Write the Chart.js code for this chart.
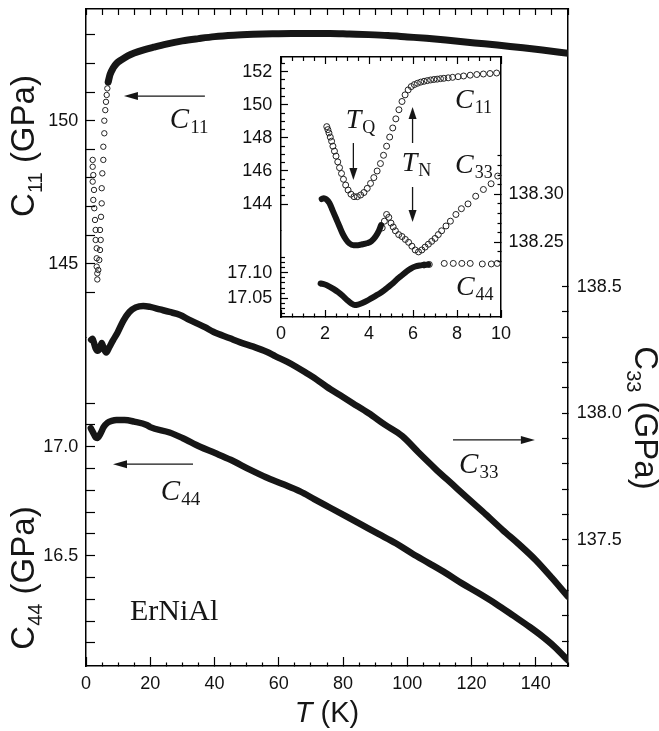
<!DOCTYPE html>
<html>
<head>
<meta charset="utf-8">
<script src="https://cdn.jsdelivr.net/npm/chart.js@4.4.0/dist/chart.umd.min.js"></script>
<style>
  html, body { margin: 0; padding: 0; background: #fff; }
  #wrap { position: relative; width: 659px; height: 731px; }
  #mainChart { position: absolute; left: 0; top: 0; }
  #insetChart { position: absolute; left: 200px; top: 45px; }
</style>
</head>
<body>
<div id="wrap">
  <canvas id="mainChart" width="659" height="731"></canvas>
  <canvas id="insetChart" width="370" height="305"></canvas>
</div>
<script>
// ---- main panel, 0-150 K ----
const mainTempLabels = [0, 20, 40, 60, 80, 100, 120, 140];
const mainC11Labels = [145, 150];
const mainC44Labels = [16.5, 17.0];
const mainC33Labels = [137.5, 138.0, 138.5];

// C11 below ~7 K is plotted as open circles, the rest as a dense trace
const mainC11DotT = [2.08, 2.08, 2.27, 2.08, 2.49, 2.27, 2.58, 2.80, 3.00, 3.00, 3.33, 3.33, 3.33, 3.52, 3.52,
  3.83, 4.14, 4.36, 4.57, 4.36, 4.67, 4.89, 4.89, 5.08, 5.39, 5.39, 5.70, 5.70, 6.00, 6.22, 6.44, 6.64];
const mainC11Dot = [148.63, 148.39, 148.10, 147.87, 147.58, 147.23, 146.94, 146.53, 146.18, 145.83, 145.54, 145.19, 144.90, 144.66, 144.45,
  144.78, 145.13, 145.48, 145.83, 146.18, 146.64, 147.11, 147.64, 148.16, 148.63, 149.09, 149.56, 150.00, 150.37, 150.66, 150.90, 151.13];
const mainC11LineT = [6.9, 7.5, 8.5, 9.5, 11, 13, 15, 18, 21, 25, 30, 35, 40, 46, 52, 58, 64, 70, 76, 82,
  88, 94, 100, 106, 112, 118, 124, 130, 136, 142, 150];
const mainC11Line = [151.35, 151.62, 151.85, 152.0, 152.13, 152.27, 152.37, 152.48, 152.57, 152.68, 152.79, 152.87, 152.94, 152.99, 153.02, 153.04, 153.05, 153.05, 153.05, 153.03,
  153.01, 152.98, 152.93, 152.88, 152.82, 152.75, 152.69, 152.62, 152.55, 152.47, 152.36];

const mainC33T = [1.6, 2.0, 2.5, 3.0, 3.6, 4.3, 4.9, 5.5, 6.3, 7.2, 8.4, 9.8, 11.6, 13.5, 15.5, 17.8, 20, 23, 26, 29.3,
  32, 34.5, 37, 39.6, 44.8, 48, 52.1, 56.2, 59, 62.5, 65.5, 68.7, 71.8, 74.9, 79, 83, 88, 93, 98.4, 103.5,
  108.8, 114, 119.2, 124.5, 129.6, 135, 140, 145, 150];
const mainC33 = [138.29, 138.294, 138.277, 138.256, 138.247, 138.256, 138.277, 138.257, 138.240, 138.26, 138.288, 138.318, 138.365, 138.40, 138.418, 138.424, 138.42, 138.41, 138.40, 138.388,
  138.37, 138.355, 138.34, 138.322, 138.296, 138.28, 138.263, 138.243, 138.225, 138.204, 138.183, 138.158, 138.133, 138.105, 138.072, 138.04, 138.0, 137.955, 137.91, 137.845,
  137.78, 137.72, 137.66, 137.6, 137.54, 137.48, 137.42, 137.35, 137.276];

const mainC44T = [1.5, 2.2, 3.0, 3.5, 4.5, 5.5, 6.7, 8, 9.5, 12, 15, 18.9, 20, 26, 30, 35.5, 40, 45, 51, 56,
  61, 66.6, 71, 76, 81, 86, 91, 96.4, 101.5, 106.8, 112, 117, 122, 127.5, 133, 138, 142, 146, 150];
const mainC44 = [17.085, 17.065, 17.043, 17.04, 17.06, 17.09, 17.11, 17.118, 17.122, 17.122, 17.115, 17.10, 17.09, 17.065, 17.04, 17.0, 16.972, 16.94, 16.895, 16.86,
  16.83, 16.795, 16.76, 16.72, 16.68, 16.64, 16.6, 16.557, 16.51, 16.465, 16.42, 16.373, 16.33, 16.28, 16.225, 16.174, 16.13, 16.08, 16.02];

// ---- inset, 0-10 K ----
const insetTempLabels = [0, 2, 4, 6, 8, 10];
const insetC11Labels = [144, 146, 148, 150, 152];
const insetC44Labels = [17.05, 17.10];
const insetC33Labels = [138.25, 138.30];

const insetC11T = [2.08, 2.13, 2.18, 2.24, 2.30, 2.36, 2.43, 2.50, 2.58, 2.66, 2.75, 2.84, 2.94, 3.05, 3.18, 3.32, 3.47, 3.62,
  3.77, 3.92, 4.07, 4.22, 4.37, 4.52, 4.66, 4.80, 4.94, 5.08, 5.22, 5.36, 5.50, 5.64, 5.78, 5.92, 6.06, 6.2, 6.35,
  6.5, 6.65, 6.8, 6.95, 7.1, 7.25, 7.4, 7.6, 7.8, 8.05, 8.3, 8.6, 8.9, 9.2, 9.5, 9.8];
const insetC11 = [148.68, 148.5, 148.3, 148.05, 147.8, 147.5, 147.2, 146.9, 146.55, 146.2, 145.85, 145.5, 145.15, 144.85, 144.6, 144.45, 144.45, 144.55,
  144.7, 144.95, 145.25, 145.6, 146.0, 146.45, 146.95, 147.5, 148.05, 148.6, 149.15, 149.7, 150.2, 150.6, 150.9, 151.1, 151.22, 151.3, 151.37,
  151.42, 151.46, 151.5, 151.53, 151.55, 151.58, 151.6, 151.63, 151.66, 151.7, 151.74, 151.79, 151.83, 151.86, 151.89, 151.92];

const insetC33BandT = [1.85, 1.95, 2.05, 2.2, 2.35, 2.5, 2.65, 2.8, 2.95, 3.1, 3.3, 3.5, 3.7, 3.9, 4.1, 4.3, 4.45, 4.55];
const insetC33Band = [138.295, 138.296, 138.295, 138.291, 138.283, 138.275, 138.267, 138.259, 138.253, 138.249, 138.247, 138.247, 138.248, 138.249, 138.251, 138.256, 138.262, 138.268];
const insetC33DotT = [4.6, 4.7, 4.8, 4.9, 5.0, 5.1, 5.2, 5.35, 5.5, 5.65, 5.8, 5.95, 6.1, 6.25, 6.4, 6.55, 6.7, 6.85,
  7.0, 7.15, 7.3, 7.5, 7.7, 7.95, 8.2, 8.5, 8.85, 9.2, 9.55, 9.85];
const insetC33Dot = [138.265, 138.272, 138.279, 138.276, 138.27, 138.266, 138.262, 138.258, 138.256, 138.253, 138.25, 138.246, 138.242, 138.24, 138.242, 138.245, 138.248, 138.251,
  138.254, 138.258, 138.262, 138.267, 138.272, 138.279, 138.285, 138.29, 138.298, 138.305, 138.311, 138.319];

const insetC44BandT = [1.8, 2.0, 2.2, 2.4, 2.6, 2.8, 3.0, 3.2, 3.35, 3.5, 3.7, 3.9, 4.1, 4.3, 4.5, 4.7, 4.9, 5.1, 5.3, 5.5,
  5.7, 5.9, 6.1, 6.3, 6.5, 6.7];
const insetC44Band = [17.079, 17.077, 17.073, 17.068, 17.062, 17.055, 17.047, 17.04, 17.037, 17.038, 17.041, 17.045, 17.05, 17.055, 17.06, 17.066, 17.073, 17.08, 17.088, 17.095,
  17.102, 17.108, 17.112, 17.114, 17.115, 17.116];
const insetC44DotT = [6.5, 6.74, 7.42, 7.83, 8.22, 8.6, 9.15, 9.56, 9.83];
const insetC44Dot = [17.115, 17.116, 17.118, 17.118, 17.118, 17.118, 17.117, 17.117, 17.118];

const SERIF = '"Liberation Serif", "Times New Roman", serif';
const SANS = '"Liberation Sans", Arial, sans-serif';
const INK = '#161616';

const pts = (xs, ys) => xs.map((x, i) => ({ x, y: ys[i] }));

function stepTicks(from, to, step) {
  const n = Math.round((to - from) / step);
  const out = [];
  for (let i = 0; i <= n; i++) out.push(+(from + i * step).toFixed(6));
  return out;
}

const near = (list, v) => (list || []).find(l => Math.abs(l - v) < 1e-6);

// frame axis with inward ticks; minor ticks are shortened through the dash pattern
function frameAxis(o) {
  const isMinor = v => o.majors ? near(o.majors, v) === undefined : false;
  const gap = 60;
  return {
    type: 'linear',
    position: o.position,
    min: o.min,
    max: o.max,
    stack: o.stack,
    stackWeight: o.stackWeight,
    weight: o.weight || 0,
    afterBuildTicks: s => { s.ticks = o.ticks.map(v => ({ value: v })); },
    afterFit: s => {
      if (s.isHorizontal()) s.height = o.size; else s.width = o.size;
      s.paddingTop = s.paddingBottom = s.paddingLeft = s.paddingRight = 0;
    },
    border: { display: true, color: '#000', width: 1.5 },
    grid: {
      drawOnChartArea: false,
      drawTicks: true,
      tickLength: -o.tickLen,
      tickColor: '#000',
      tickWidth: 1.2,
      tickBorderDash: c => (c.tick && isMinor(c.tick.value)) ? [o.minorLen, gap] : [],
      tickBorderDashOffset: c => (c.tick && isMinor(c.tick.value) && o.fromInside) ? (2 * o.minorLen - o.tickLen + gap) : 0
    },
    ticks: {
      display: !!o.labels,
      padding: (o.labelGap || 0) + o.tickLen,
      color: '#111',
      font: { family: SANS, size: 18 },
      autoSkip: false,
      maxRotation: 0,
      callback: v => {
        const hit = near(o.labels, v);
        return hit === undefined ? '' : hit.toFixed(o.digits || 0);
      }
    }
  };
}

function arrow(ctx, x1, y1, x2, y2, head, half) {
  const a = Math.atan2(y2 - y1, x2 - x1);
  const bx = x2 - head * Math.cos(a), by = y2 - head * Math.sin(a);
  ctx.beginPath();
  ctx.moveTo(x1, y1);
  ctx.lineTo(bx, by);
  ctx.stroke();
  ctx.beginPath();
  ctx.moveTo(x2, y2);
  ctx.lineTo(bx + half * Math.sin(a), by - half * Math.cos(a));
  ctx.lineTo(bx - half * Math.sin(a), by + half * Math.cos(a));
  ctx.closePath();
  ctx.fill();
}

// symbol with subscript, optional trailing text; x is the left edge unless centred
function subText(ctx, x, y, main, sub, tail, o) {
  ctx.textAlign = 'left';
  ctx.textBaseline = 'alphabetic';
  ctx.font = o.mainFont;
  const w1 = ctx.measureText(main).width;
  const w3 = tail ? ctx.measureText(tail).width : 0;
  ctx.font = o.subFont;
  const w2 = ctx.measureText(sub).width;
  const x0 = o.center ? x - (w1 + w2 + w3) / 2 : x;
  ctx.font = o.mainFont;
  ctx.fillText(main, x0, y);
  ctx.font = o.subFont;
  ctx.fillText(sub, x0 + w1 + (o.kern || 0), y + o.drop);
  if (tail) {
    ctx.font = o.mainFont;
    ctx.fillText(tail, x0 + w1 + w2 + (o.kern || 0), y);
  }
}

const symMain = { mainFont: 'italic 29px ' + SERIF, subFont: '19px ' + SERIF, drop: 5, kern: 1 };
const symInset = { mainFont: 'italic 28px ' + SERIF, subFont: '18px ' + SERIF, drop: 5, kern: 1 };
const titleFont = { mainFont: '33px ' + SANS, subFont: '20px ' + SANS, drop: 8, center: true };

const mainNotes = {
  id: 'mainNotes',
  afterDraw(chart) {
    const { ctx, chartArea: ca, scales } = chart;
    const X = scales.x, Y11 = scales.yC11, Y44 = scales.yC44, Y33 = scales.yC33;
    ctx.save();
    ctx.fillStyle = INK;
    ctx.strokeStyle = INK;
    ctx.lineWidth = 1.3;

    arrow(ctx, X.getPixelForValue(37.0), Y11.getPixelForValue(150.86), X.getPixelForValue(11.8), Y11.getPixelForValue(150.86), 14, 4);
    subText(ctx, X.getPixelForValue(26.1), Y11.getPixelForValue(149.74), 'C', '11', '', symMain);

    arrow(ctx, X.getPixelForValue(33.3), Y44.getPixelForValue(16.92), X.getPixelForValue(8.4), Y44.getPixelForValue(16.92), 14, 4);
    subText(ctx, X.getPixelForValue(23.3), Y44.getPixelForValue(16.755), 'C', '44', '', symMain);

    arrow(ctx, X.getPixelForValue(114.2), Y33.getPixelForValue(137.895), X.getPixelForValue(139.7), Y33.getPixelForValue(137.895), 14, 4);
    subText(ctx, X.getPixelForValue(116.1), Y33.getPixelForValue(137.764), 'C', '33', '', symMain);

    ctx.font = '30px ' + SERIF;
    ctx.textAlign = 'left';
    ctx.fillText('ErNiAl', X.getPixelForValue(13.7), Y44.getPixelForValue(16.205));

    // axis titles
    ctx.save();
    ctx.translate(ca.left - 52, 146);
    ctx.rotate(-Math.PI / 2);
    subText(ctx, 0, 0, 'C', '11', ' (GPa)', titleFont);
    ctx.restore();

    ctx.save();
    ctx.translate(ca.left - 52, 578);
    ctx.rotate(-Math.PI / 2);
    subText(ctx, 0, 0, 'C', '44', ' (GPa)', titleFont);
    ctx.restore();

    ctx.save();
    ctx.translate(ca.right + 67, 418);
    ctx.rotate(Math.PI / 2);
    subText(ctx, 0, 0, 'C', '33', ' (GPa)', titleFont);
    ctx.restore();

    ctx.textBaseline = 'alphabetic';
    ctx.font = 'italic 29px ' + SANS;
    const wT = ctx.measureText('T').width;
    ctx.font = '29px ' + SANS;
    const wK = ctx.measureText(' (K)').width;
    const tx = (ca.left + ca.right) / 2 - (wT + wK) / 2;
    ctx.font = 'italic 29px ' + SANS;
    ctx.fillText('T', tx, ca.bottom + 56);
    ctx.font = '29px ' + SANS;
    ctx.fillText(' (K)', tx + wT, ca.bottom + 56);
    ctx.restore();
  }
};

const insetNotes = {
  id: 'insetNotes',
  beforeDraw(chart) {
    const { ctx, chartArea: ca } = chart;
    ctx.save();
    ctx.fillStyle = '#fff';
    ctx.fillRect(ca.left, ca.top, ca.right - ca.left, ca.bottom - ca.top);
    ctx.restore();
  },
  afterDraw(chart) {
    const { ctx, scales } = chart;
    const X = scales.x, Y11 = scales.yC11, Y44 = scales.yC44, Y33 = scales.yC33;
    ctx.save();
    ctx.fillStyle = INK;
    ctx.strokeStyle = INK;
    ctx.lineWidth = 1.3;

    subText(ctx, X.getPixelForValue(7.91), Y11.getPixelForValue(149.81), 'C', '11', '', symInset);
    subText(ctx, X.getPixelForValue(7.91), Y33.getPixelForValue(138.3222), 'C', '33', '', symInset);
    subText(ctx, X.getPixelForValue(7.95), Y44.getPixelForValue(17.0566), 'C', '44', '', symInset);

    subText(ctx, X.getPixelForValue(2.94), Y11.getPixelForValue(148.6), 'T', 'Q', '', symInset);
    arrow(ctx, X.getPixelForValue(3.29), Y11.getPixelForValue(147.69), X.getPixelForValue(3.29), Y11.getPixelForValue(145.46), 12, 4);

    subText(ctx, X.getPixelForValue(5.49), Y11.getPixelForValue(145.97), 'T', 'N', '', symInset);
    arrow(ctx, X.getPixelForValue(5.98), Y11.getPixelForValue(147.69), X.getPixelForValue(5.98), Y11.getPixelForValue(149.87), 12, 4);
    arrow(ctx, X.getPixelForValue(5.98), Y33.getPixelForValue(138.3076), X.getPixelForValue(5.98), Y33.getPixelForValue(138.2711), 12, 4);
    ctx.restore();
  }
};

const dots = (data, yAxisID, r) => ({
  data, yAxisID, showLine: false,
  pointRadius: r, pointBorderWidth: 1, pointBorderColor: '#222',
  pointBackgroundColor: 'rgba(255,255,255,0)'
});
const trace = (data, yAxisID, w) => ({
  data, yAxisID, showLine: true, pointRadius: 0,
  borderColor: INK, borderWidth: w, borderCapStyle: 'round', borderJoinStyle: 'round',
  cubicInterpolationMode: 'monotone'
});

const baseOptions = {
  responsive: false,
  maintainAspectRatio: false,
  animation: false,
  events: [],
  layout: { padding: 0, autoPadding: false },
  plugins: { legend: { display: false }, tooltip: { enabled: false } }
};

new Chart(document.getElementById('mainChart'), {
  type: 'scatter',
  data: {
    datasets: [
      dots(pts(mainC11DotT, mainC11Dot), 'yC11', 2.7),
      trace(pts(mainC11LineT, mainC11Line), 'yC11', 7),
      trace(pts(mainC33T, mainC33), 'yC33', 6.5),
      trace(pts(mainC44T, mainC44), 'yC44', 6.5)
    ]
  },
  options: {
    ...baseOptions,
    scales: {
      x: frameAxis({ position: 'bottom', min: 0, max: 150, ticks: stepTicks(0, 150, 5), labels: mainTempLabels,
        majors: mainTempLabels, tickLen: 9, minorLen: 4, size: 65, labelGap: 7.7 }),
      xTop: frameAxis({ position: 'top', min: 0, max: 150, ticks: stepTicks(0, 150, 5), tickLen: 6, size: 9 }),
      yC11: frameAxis({ position: 'left', stack: 'left', stackWeight: 1, weight: 2, min: 142.42, max: 153.906,
        ticks: stepTicks(144, 153, 1), labels: mainC11Labels, digits: 0, tickLen: 9, size: 86, labelGap: 7.7 }),
      yC44: frameAxis({ position: 'left', stack: 'left', stackWeight: 1, weight: 1, min: 15.994, max: 17.501,
        ticks: stepTicks(16.1, 17.2, 0.1), labels: mainC44Labels, digits: 1, tickLen: 9, size: 86, labelGap: 7.7 }),
      yC33: frameAxis({ position: 'right', min: 137.0024, max: 139.596, ticks: stepTicks(137.1, 138.5, 0.1),
        labels: mainC33Labels, digits: 1, tickLen: 6, size: 91, labelGap: 8.7 })
    }
  },
  plugins: [mainNotes]
});

new Chart(document.getElementById('insetChart'), {
  type: 'scatter',
  data: {
    datasets: [
      dots(pts(insetC11T, insetC11), 'yC11', 3),
      trace(pts(insetC33BandT, insetC33Band), 'yC33', 6),
      dots(pts(insetC33DotT, insetC33Dot), 'yC33', 3),
      trace(pts(insetC44BandT, insetC44Band), 'yC44', 6),
      dots(pts(insetC44DotT, insetC44Dot), 'yC44', 3)
    ]
  },
  options: {
    ...baseOptions,
    scales: {
      x: frameAxis({ position: 'bottom', min: 0, max: 10, ticks: stepTicks(0, 10, 0.5), labels: insetTempLabels,
        majors: insetTempLabels, tickLen: 7, minorLen: 4, size: 33, labelGap: 6.1 }),
      xTop: frameAxis({ position: 'top', min: 0, max: 10, ticks: stepTicks(0, 10, 0.5), majors: insetTempLabels,
        tickLen: 7, minorLen: 4, fromInside: true, size: 12 }),
      yC11: frameAxis({ position: 'left', stack: 'left', stackWeight: 2, weight: 2, min: 142.415, max: 152.888,
        ticks: stepTicks(144, 152.5, 0.5), labels: insetC11Labels, majors: insetC11Labels, digits: 0,
        tickLen: 7, minorLen: 4, fromInside: true, size: 81, labelGap: 8.7 }),
      yC44: frameAxis({ position: 'left', stack: 'left', stackWeight: 1, weight: 1, min: 17.0138, max: 17.1824,
        ticks: stepTicks(17.02, 17.13, 0.01), labels: insetC44Labels, majors: insetC44Labels, digits: 2,
        tickLen: 7, minorLen: 4, fromInside: true, size: 81, labelGap: 8.7 }),
      yC33: frameAxis({ position: 'right', min: 138.1722, max: 138.443, ticks: stepTicks(138.23, 138.34, 0.01),
        labels: insetC33Labels, majors: insetC33Labels, digits: 2, tickLen: 7, minorLen: 4, size: 69, labelGap: 7.6 })
    }
  },
  plugins: [insetNotes]
});
</script>
</body>
</html>
